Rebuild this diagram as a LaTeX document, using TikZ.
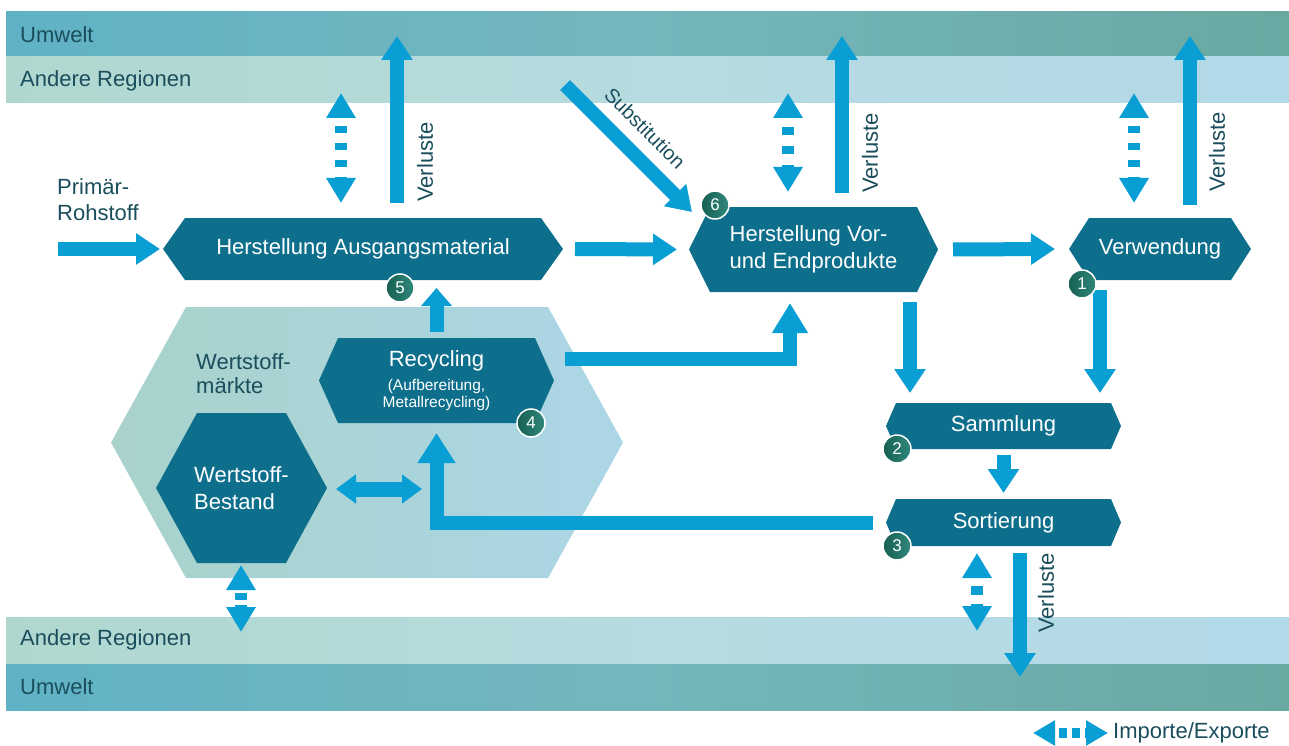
\documentclass[tikz,border=0pt]{standalone}
\usepackage{fontspec}
\setmainfont{Liberation Sans}
\usetikzlibrary{arrows.meta,calc}
\definecolor{arrowblue}{RGB}{9,158,212}
\definecolor{hexdark}{RGB}{14,111,141}
\definecolor{labeltxt}{RGB}{26,78,92}
\definecolor{numgreenD}{RGB}{22,96,82}
\definecolor{numgreenL}{RGB}{48,136,124}
\definecolor{umweltL}{RGB}{95,178,197}
\definecolor{umweltM}{RGB}{117,182,188}
\definecolor{umweltR}{RGB}{104,169,162}
\definecolor{andereL}{RGB}{176,215,207}
\definecolor{andereM}{RGB}{182,219,224}
\definecolor{andereR}{RGB}{178,217,232}
\definecolor{marktL}{RGB}{168,210,202}
\definecolor{marktR}{RGB}{172,214,230}
\newcommand{\bigfont}{\fontsize{22}{26}\selectfont}
\newcommand{\smallfont}{\fontsize{15.5}{17}\selectfont}
\newcommand{\hexnode}[7]{%
  \node[hexframe, minimum width=#3pt, minimum height=#4pt] (#1) at (#2) {};
  \fill[hexdark] (#1.west) -- ([xshift=#5pt]#1.north west) -- ([xshift=-#5pt]#1.north east)
    -- (#1.east) -- ([xshift=-#5pt]#1.south east) -- ([xshift=#5pt]#1.south west) -- cycle;
  \node[hextext,#6] (#1-t) at (#1) {#7};
}
\tikzset{
  hexframe/.style={inner sep=0pt, outer sep=0pt, draw=none},
  hextext/.style={text=white, font=\bigfont, inner sep=0pt},
  lbl/.style={text=labeltxt, font=\bigfont, inner sep=0pt},
  flow/.style={draw=arrowblue, line width=14pt, -{Triangle[width=30pt,length=24pt]}},
  impexp/.style={draw=arrowblue, line width=12pt, {Triangle[width=28pt,length=25pt]}-{Triangle[width=28pt,length=25pt]}},
  numc/.style={circle, left color=numgreenD, right color=numgreenL, draw=white, line width=1.5pt, minimum size=28pt, inner sep=0pt, text=white, font=\fontsize{17}{17}\selectfont},
}
\begin{document}
\begin{tikzpicture}[x=1pt,y=-1pt]
\useasboundingbox (0,0) rectangle (1289,746);
% bands
\shade[left color=umweltL,right color=umweltR,middle color=umweltM] (6,12) rectangle (1289,57);
\shade[left color=andereL,right color=andereR,middle color=andereM] (6,57) rectangle (1289,103);
\shade[left color=andereL,right color=andereR,middle color=andereM] (6,617) rectangle (1289,664);
\shade[left color=umweltL,right color=umweltR,middle color=umweltM] (6,664) rectangle (1289,710);
\node[lbl, anchor=west] (tU) at (20,35) {Umwelt};
\node[lbl, anchor=west] (tR) at (20,81) {Andere Regionen};
\node[lbl, anchor=west] (bR) at (20,640) {Andere Regionen};
\node[lbl, anchor=west] (bU) at (20,687) {Umwelt};

% Wertstoffmaerkte background hexagon
\node[hexframe, minimum width=512pt, minimum height=271pt] (M) at (367,442.5) {};
\shade[left color=marktL, right color=marktR] (M.west) -- ([xshift=75pt]M.north west) -- ([xshift=-75pt]M.north east)
  -- (M.east) -- ([xshift=-75pt]M.south east) -- ([xshift=75pt]M.south west) -- cycle;
\node[lbl, align=left, anchor=west, font=\fontsize{22}{24}\selectfont] (Mt) at (196,374) {Wertstoff-\\märkte};

% process nodes
\hexnode{A}{363,249}{400}{62}{22}{}{Herstellung Ausgangsmaterial}
\hexnode{B}{813.5,249.5}{249}{85}{21}{align=left, font=\fontsize{22}{27}\selectfont}{Herstellung Vor-\\und Endprodukte}
\hexnode{C}{1160,249}{182}{62}{20}{}{Verwendung}
\hexnode{D}{436.5,380.5}{235}{85}{19}{}{}
\node[hextext] (D-a) at ($(D)+(0,-20)$) {Recycling};
\node[hextext, font=\smallfont, align=center] (D-b) at ($(D)+(0,14)$) {(Aufbereitung,\\Metallrecycling)};
\hexnode{E}{241.5,488}{171}{150}{41}{align=left, font=\fontsize{22}{27}\selectfont}{Wertstoff-\\Bestand}
\hexnode{F}{1003.5,426}{235}{46}{10}{}{Sammlung}
\hexnode{G}{1003.5,522.5}{235}{47}{10}{}{Sortierung}

% primary input
\node[lbl, align=left, anchor=west] (P) at (57,200) {Primär-\\Rohstoff};
\coordinate (prim) at (58,249);
\draw[flow] (prim) -- ([xshift=-3pt]A.west);

% main flows
\draw[flow] ([xshift=12pt]A.east) -- ([xshift=-12pt]B.west);
\draw[flow] ([xshift=15pt]B.east) -- ([xshift=-14pt]C.west);
\coordinate (subst) at (565,85);
\draw[flow] (subst) -- (692,212);
\node[lbl, rotate=-45, font=\fontsize{20}{24}\selectfont] (St) at (645,128) {Substitution};

% losses to environment (top)
\draw[flow] (397,203) -- (397,36);
\draw[flow] (842,193) -- (842,36);
\draw[flow] (1190,205) -- (1190,36);
\node[lbl, rotate=90] (LA) at (425,162) {Verluste};
\node[lbl, rotate=90] (LB) at (870,153) {Verluste};
\node[lbl, rotate=90] (LC) at (1217,152) {Verluste};

% imports/exports (top)
\draw[impexp, dash pattern=on 7pt off 10pt, dash phase=7pt] (341,93) -- (341,203);
\draw[impexp, dash pattern=on 8pt off 11pt, dash phase=8pt] (788,93) -- (788,192);
\draw[impexp, dash pattern=on 7pt off 10pt, dash phase=7pt] (1134,93) -- (1134,203);

% to collection
\draw[flow] (910,302) -- (910,393);
\draw[flow] (1100,290) -- (1100,393);
\draw[flow] ([yshift=-6pt]F.south) -- ([yshift=6pt]G.north);

% sorting to recycling
\draw[flow, -{Triangle[width=36pt,length=30pt]}] ([xshift=-13pt]G.west) -| ([yshift=-10pt]D.south);
% recycling to A and B
\draw[flow, -{Triangle[width=30pt,length=18pt]}] ([yshift=6pt]D.north) -- (D.north |- 0,288);
\draw[flow, -{Triangle[width=34pt,length=30pt]}] (565,359) -| (790,303);
% stock <-> recycling
\draw[draw=arrowblue, line width=15pt, {Triangle[width=28pt,length=20pt]}-{Triangle[width=28pt,length=20pt]}] (336,489) -- (422,489);

% sorting: imports/exports and losses
\draw[impexp, dash pattern=on 9pt off 9.5pt, dash phase=9pt] (977,553) -- (977,631);
\draw[flow] (1020,553) -- (1020,677);
\node[lbl, rotate=90] (LG) at (1046,593) {Verluste};
% stock imports/exports
\draw[impexp, dash pattern=on 7pt off 5pt, dash phase=7pt] (241,565) -- (241,632);

% numbers
\node[numc] (n1) at (1082,284) {1};
\node[numc] (n2) at (897,449) {2};
\node[numc] (n3) at (897,546) {3};
\node[numc] (n4) at (531,423) {4};
\node[numc] (n5) at (400,288) {5};
\node[numc] (n6) at (715,205) {6};

% legend
\draw[draw=arrowblue, line width=10pt, dash pattern=on 8pt off 5pt, dash phase=8pt,
  {Triangle[width=24pt,length=22pt]}-{Triangle[width=24pt,length=22pt]}] (1033,733) -- (1108,733);
\node[lbl, anchor=west] (leg) at (1113,733) {Importe/Exporte};
\end{tikzpicture}
\end{document}
